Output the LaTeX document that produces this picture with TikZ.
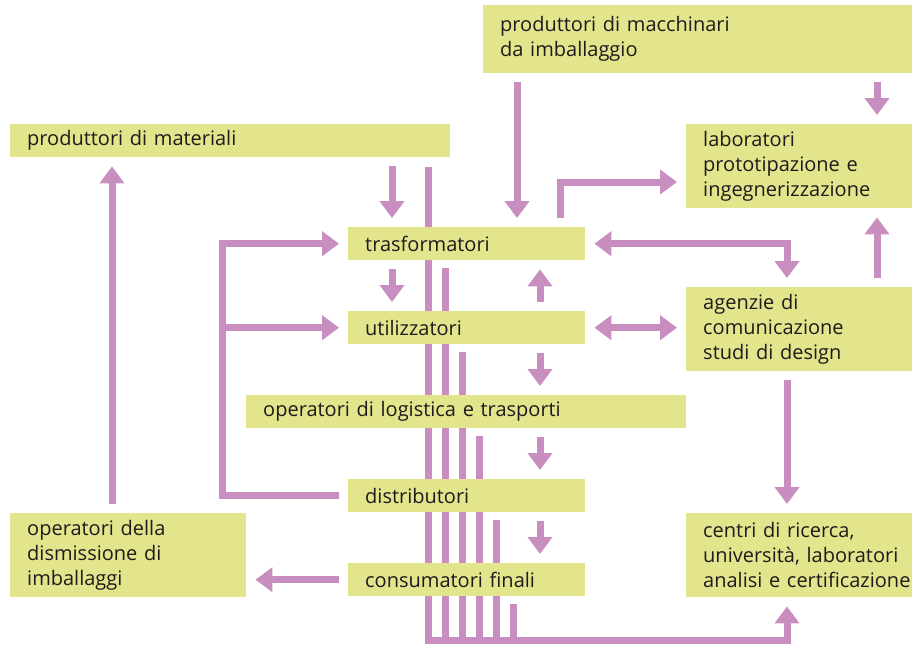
\documentclass[tikz,border=0pt]{standalone}
\usepackage{fontspec}
\setmainfont{Open Sans}
\usetikzlibrary{arrows.meta}
\usetikzlibrary{positioning}
\usetikzlibrary{backgrounds}
\definecolor{boxfill}{RGB}{227,229,140}
\definecolor{flowpink}{RGB}{200,142,192}
\definecolor{boxtext}{RGB}{30,27,28}
\begin{document}
\begin{tikzpicture}[x=1pt,y=-1pt,
  box/.style={fill=boxfill, anchor=north west, inner xsep=17pt, inner ysep=0pt,
    align=left, text=boxtext, font=\fontsize{20}{25}\selectfont},
  flow/.style={draw=flowpink, line width=7pt, -{Triangle[length=17pt,width=24pt]},
    shorten <=9pt, shorten >=9pt},
  flowboth/.style={flow, {Triangle[length=17pt,width=24pt]}-{Triangle[length=17pt,width=24pt]}},
  bus/.style={draw=flowpink, line width=7pt}]
\useasboundingbox (0,0) rectangle (912,651);
% columns and rows
\coordinate (x1) at (112,0);  \coordinate (x2) at (222,0);
\coordinate (x3) at (392,0);  \coordinate (x4) at (517,0);
\coordinate (x5) at (540,0);  \coordinate (x6) at (560,0);
\coordinate (x7) at (787,0);  \coordinate (x8) at (877,0);
\coordinate (y1) at (0,182);  \coordinate (busend) at (787,640);
\coordinate (b1) at (428,0);  \coordinate (b2) at (445,0);
\coordinate (b3) at (462,0);  \coordinate (b4) at (479,0);
\coordinate (b5) at (496,0);  \coordinate (b6) at (513,0);
% boxes
\node[box, text width=395pt, minimum height=68pt] (mach) at (483,5) {produttori di macchinari\\da imballaggio};
\node[box, text width=406pt, minimum height=33pt] (mat) at (10,124) {produttori di materiali};
\node[box, text width=192pt, minimum height=84pt] (lab) at (686,124) {laboratori\\prototipazione e\\ingegnerizzazione};
\node[box, text width=203pt, minimum height=33pt] (trasf) at (348,227) {trasformatori};
\node[box, text width=203pt, minimum height=33pt] (util) at (348,311) {utilizzatori};
\node[box, text width=192pt, minimum height=84pt] (agen) at (686,287) {agenzie di\\comunicazione\\studi di design};
\node[box, text width=406pt, minimum height=33pt] (logi) at (246,395) {operatori di logistica e trasporti};
\node[box, text width=203pt, minimum height=33pt] (distr) at (348,479) {distributori};
\node[box, text width=203pt, minimum height=33pt] (cons) at (348,563) {consumatori finali};
\node[box, text width=202pt, minimum height=84pt] (dism) at (10,513) {operatori della\\dismissione di\\imballaggi};
\node[box, text width=192pt, minimum height=84pt] (centri) at (686,513) {centri di ricerca,\\\mbox{universit\`a, laboratori}\\\mbox{analisi e certificazione}};
% collecting lines behind the boxes
\begin{pgfonlayer}{background}
\draw[flow, shorten <=10pt] (mat.south -| b1) |- (busend) -- (centri.south -| busend);
\draw[bus, shorten <=8pt] (trasf.south -| b2) -- (b2 |- busend);
\draw[bus, shorten <=8pt] (util.south -| b3) -- (b3 |- busend);
\draw[bus, shorten <=8pt] (logi.south -| b4) -- (b4 |- busend);
\draw[bus, shorten <=8pt] (distr.south -| b5) -- (b5 |- busend);
\draw[bus, shorten <=8pt] (cons.south -| b6) -- (b6 |- busend);
\end{pgfonlayer}
% flows
\draw[flow] (mach.south -| x4) -- (trasf.north -| x4);
\draw[flow] (mach.south -| x8) -- (lab.north -| x8);
\draw[flow] (mat.south -| x3) -- (trasf.north -| x3);
\draw[flow] (trasf.south -| x3) -- (util.north -| x3);
\draw[flow] (util.north -| x5) -- (trasf.south -| x5);
\draw[flow] (util.south -| x5) -- (logi.north -| x5);
\draw[flow] (logi.south -| x5) -- (distr.north -| x5);
\draw[flow] (distr.south -| x5) -- (cons.north -| x5);
\draw[flow] (cons.west) -- (cons.west -| dism.east);
\draw[flow] (dism.north -| x1) -- (mat.south -| x1);
\draw[flow] (distr.west) -| (x2 |- trasf.west) -- (trasf.west);
\draw[flow, shorten <=0pt] (x2 |- util.west) -- (util.west);
\draw[flow] (trasf.north -| x6) |- (lab.west |- y1);
\draw[flowboth] (trasf.east) -| (agen.north -| x7);
\draw[flowboth] (util.east) -- (util.east -| agen.west);
\draw[flow] (agen.north -| x8) -- (lab.south -| x8);
\draw[flow] (agen.south -| x7) -- (centri.north -| x7);
\end{tikzpicture}
\end{document}
